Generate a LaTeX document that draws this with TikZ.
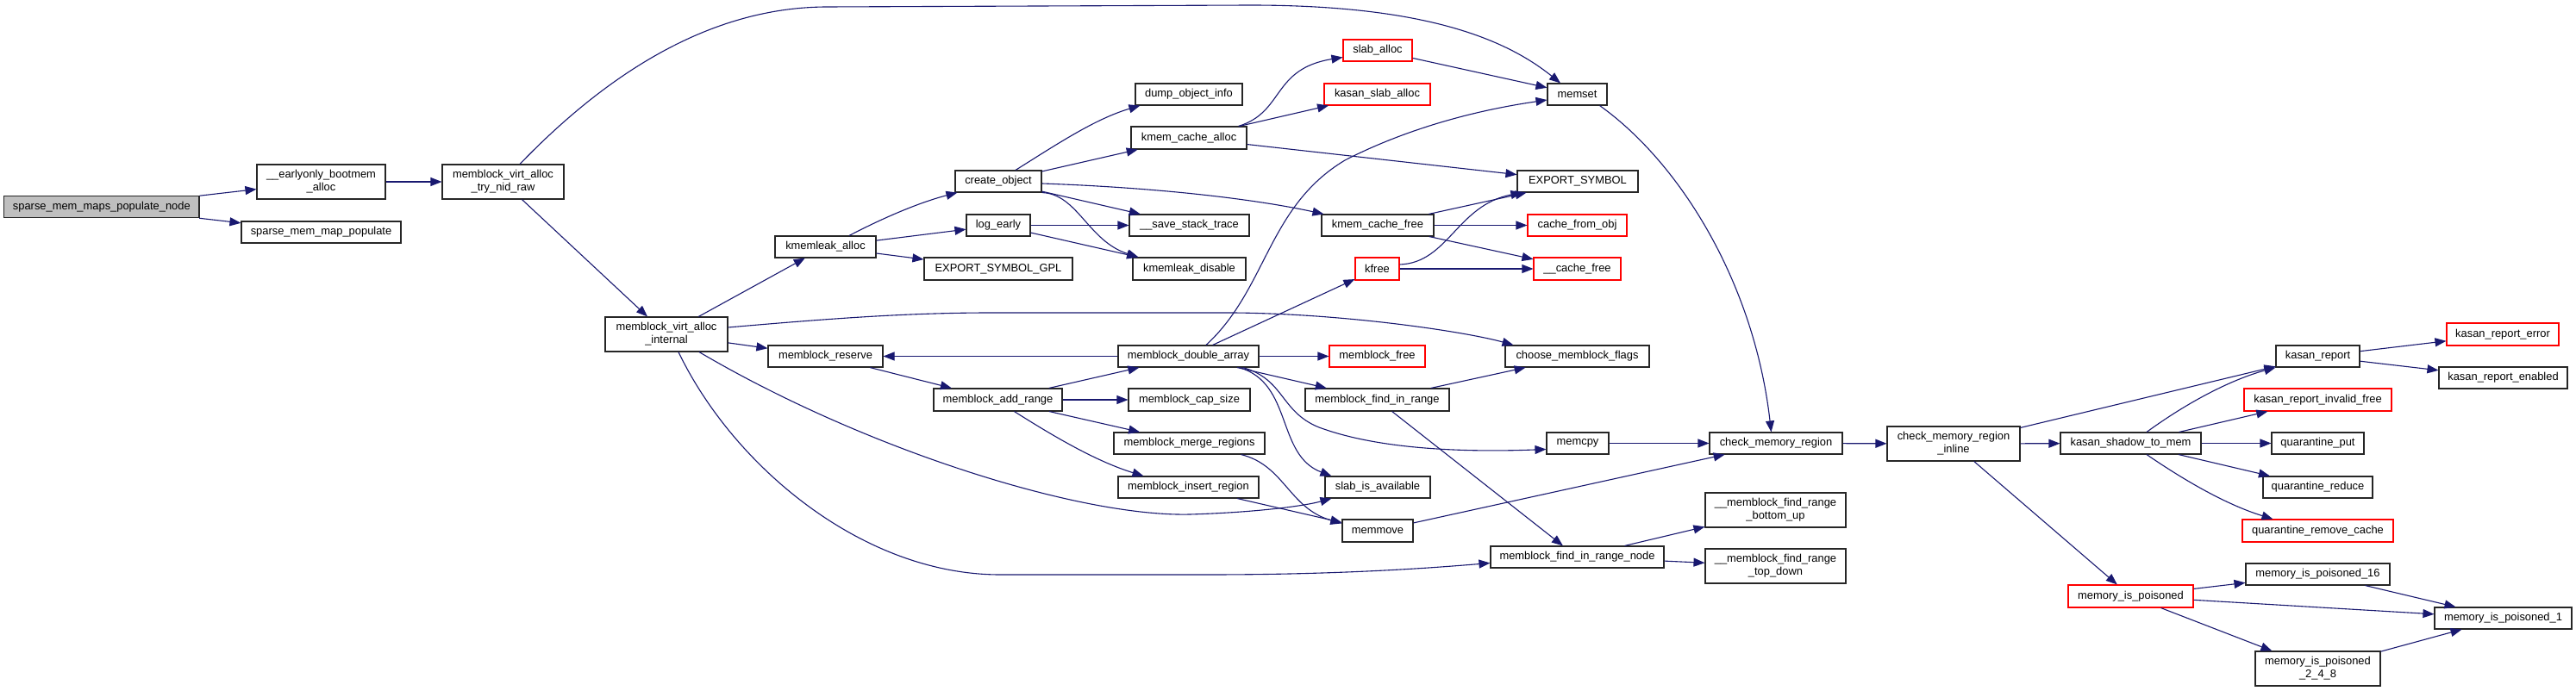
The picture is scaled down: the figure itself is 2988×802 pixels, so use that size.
\documentclass[tikz,border=0pt]{standalone}
\usepackage{fontspec}
\setmainfont{Liberation Sans}
\usetikzlibrary{arrows.meta,calc}
\definecolor{edgec}{HTML}{191970}
\definecolor{rootfill}{HTML}{BFBFBF}
\newcommand\gnode[7][box]{\node[#1, minimum width={#4pt-#3pt}, minimum height={#6pt-#5pt}] (#2) at ({(#3+#4)/2},{(#5+#6)/2}) {#7};}
\begin{document}
\begin{tikzpicture}[x=1pt,y=-1pt,
  box/.style={draw=black!85, line width=1.1pt, fill=white, inner sep=0pt, align=center, font=\fontsize{12.9}{15}\selectfont},
  redbox/.style={box, draw=red},
  rootbox/.style={box, fill=rootfill},
  e/.style={draw=edgec, line width=1.1pt, -{Triangle[length=13pt,width=10pt]}, fill=none}]
\fill[white] (0,0) rectangle (2988,802);
\useasboundingbox (0,0) rectangle (2988,802);
% nodes
\gnode[rootbox]{root}{4.7}{231}{227.7}{252.7}{sparse\_mem\_maps\_populate\_node}
\gnode{early}{298}{447}{191}{231}{\_\_earlyonly\_bootmem\\\_alloc}
\gnode{nidraw}{513}{654}{191}{231}{memblock\_virt\_alloc\\\_try\_nid\_raw}
\gnode{smmp}{280}{465}{257}{282}{sparse\_mem\_map\_populate}
\gnode{internal}{702}{844}{368}{408}{memblock\_virt\_alloc\\\_internal}
\gnode{kmalloc}{899}{1016}{274}{299}{kmemleak\_alloc}
\gnode{mreserve}{891}{1024}{401}{426}{memblock\_reserve}
\gnode{createobj}{1108}{1208}{198}{223}{create\_object}
\gnode{logearly}{1121}{1195}{249}{274}{log\_early}
\gnode{esgpl}{1072}{1244}{299}{325}{EXPORT\_SYMBOL\_GPL}
\gnode{addrange}{1083}{1232}{451}{477}{memblock\_add\_range}
\gnode{dumpobj}{1317}{1441}{97}{122}{dump\_object\_info}
\gnode{kcalloc}{1312}{1446}{147}{173}{kmem\_cache\_alloc}
\gnode{savest}{1310}{1449}{249}{274}{\_\_save\_stack\_trace}
\gnode{kmdisable}{1314}{1445}{299}{325}{kmemleak\_disable}
\gnode{dblarr}{1297}{1460}{401}{426}{memblock\_double\_array}
\gnode{capsize}{1309}{1450}{451}{477}{memblock\_cap\_size}
\gnode{mergereg}{1292}{1467}{502}{527}{memblock\_merge\_regions}
\gnode{insertreg}{1297}{1460}{553}{578}{memblock\_insert\_region}
\gnode[redbox]{slaballoc}{1558}{1638}{46}{71}{slab\_alloc}
\gnode[redbox]{kasanslab}{1536}{1659}{97}{122}{kasan\_slab\_alloc}
\gnode{kcfree}{1533}{1663}{249}{274}{kmem\_cache\_free}
\gnode[redbox]{kfree}{1572}{1623}{299}{325}{kfree}
\gnode[redbox]{mbfree}{1542}{1653}{401}{426}{memblock\_free}
\gnode{findrange}{1514}{1681}{451}{477}{memblock\_find\_in\_range}
\gnode{slabavail}{1537}{1659}{553}{578}{slab\_is\_available}
\gnode{memmove}{1557}{1639}{603}{629}{memmove}
\gnode{memset}{1795}{1864}{97}{122}{memset}
\gnode{expsym}{1760}{1900}{198}{223}{EXPORT\_SYMBOL}
\gnode[redbox]{cachefromobj}{1772}{1887}{249}{274}{cache\_from\_obj}
\gnode[redbox]{cachefree}{1779}{1880}{299}{325}{\_\_cache\_free}
\gnode{choose}{1746}{1913}{401}{426}{choose\_memblock\_flags}
\gnode{memcpy}{1794}{1866}{502}{527}{memcpy}
\gnode{findnode}{1729}{1930}{634}{659}{memblock\_find\_in\_range\_node}
\gnode{cmr}{1983}{2137}{502}{527}{check\_memory\_region}
\gnode{bottomup}{1978}{2141}{572}{612}{\_\_memblock\_find\_range\\\_bottom\_up}
\gnode{topdown}{1978}{2141}{637}{677}{\_\_memblock\_find\_range\\\_top\_down}
\gnode{cmrinline}{2189}{2343}{495}{535}{check\_memory\_region\\\_inline}
\gnode{kreport}{2640}{2737}{401}{426}{kasan\_report}
\gnode[redbox]{kreperr}{2838}{2968}{375}{401}{kasan\_report\_error}
\gnode{krepen}{2829}{2978}{426}{451}{kasan\_report\_enabled}
\gnode[redbox]{krepinv}{2603}{2774}{451}{477}{kasan\_report\_invalid\_free}
\gnode{kshadow}{2390}{2553}{502}{527}{kasan\_shadow\_to\_mem}
\gnode{qput}{2635}{2742}{502}{527}{quarantine\_put}
\gnode{qreduce}{2625}{2752}{553}{578}{quarantine\_reduce}
\gnode[redbox]{qremove}{2601}{2776}{603}{629}{quarantine\_remove\_cache}
\gnode[redbox]{mip}{2399}{2544}{679}{705}{memory\_is\_poisoned}
\gnode{mip16}{2605}{2772}{654}{679}{memory\_is\_poisoned\_16}
\gnode{mip1}{2824}{2983}{705}{730}{memory\_is\_poisoned\_1}
\gnode{mip248}{2616}{2761}{756}{796}{memory\_is\_poisoned\\\_2\_4\_8}
% straight edges
\foreach \a/\b in {root/early, root/smmp, early/nidraw, nidraw/internal,
  internal/kmalloc, internal/mreserve, kmalloc/logearly, kmalloc/esgpl,
  createobj/kcalloc, createobj/savest, logearly/savest, logearly/kmdisable,
  kcalloc/kasanslab, kcalloc/expsym, slaballoc/memset, kcfree/expsym,
  kcfree/cachefromobj, kcfree/cachefree, kfree/cachefree, dblarr/kfree,
  dblarr/mreserve, dblarr/mbfree, dblarr/findrange, mreserve/addrange,
  addrange/dblarr, addrange/capsize, addrange/mergereg, insertreg/memmove,
  findrange/choose, findrange/findnode, memcpy/cmr, memmove/cmr,
  findnode/bottomup, findnode/topdown, cmr/cmrinline, cmrinline/kreport,
  cmrinline/kshadow, cmrinline/mip, kreport/kreperr, kreport/krepen,
  kshadow/krepinv, kshadow/qput, kshadow/qreduce, mip/mip16, mip/mip1,
  mip/mip248, mip16/mip1, mip248/mip1}
  \draw[e] (\a) -- (\b);
% curved edges
\draw[e] ($(nidraw.north)+(19.5,0)$) .. controls (700,90) and (820,8) .. (960,8)
  -- (1450,6) .. controls (1640,6) and (1740,40) .. ($(memset.north)+(-19.5,0)$);
\draw[e] ($(internal.east)+(0,-8)$) .. controls (960,370) and (1050,363) .. (1150,363)
  -- (1430,363) .. controls (1560,364) and (1700,385) .. ($(choose.north)+(-74,0)$);
\draw[e] ($(internal.south)+(38,0)$) .. controls (1000,520) and (1250,600) .. (1380,597)
  .. controls (1450,595) and (1510,588) .. ($(slabavail.south west)+(8,0)$);
\draw[e] ($(internal.south)+(14,0)$) .. controls (850,540) and (1000,667) .. (1160,667)
  -- (1400,667) .. controls (1550,667) and (1650,660) .. ($(findnode.west)+(0,7)$);
\draw[e] ($(kmalloc.north)+(27.5,0)$) .. controls (1030,250) and (1070,234) .. ($(createobj.south west)+(3,0)$);
\draw[e] ($(createobj.north)+(20,0)$) .. controls (1225,168) and (1270,138) .. ($(dumpobj.south west)+(6,0)$);
\draw[e] ($(createobj.east)+(0,2.5)$) .. controls (1350,218) and (1460,232) .. ($(kcfree.north west)+(3,0)$);
\draw[e] (createobj.south east) .. controls (1250,225) and (1262,280) .. ($(kmdisable.north west)+(7,0)$);
\draw[e] ($(kcalloc.north east)+(-10,0)$) .. controls (1490,130) and (1475,80) .. ($(slaballoc.west)+(0,8)$);
\draw[e] ($(kfree.east)+(0,-5)$) .. controls (1680,305) and (1690,238) .. ($(expsym.south west)+(6,0)$);
\draw[e] ($(dblarr.north)+(20.5,0)$) .. controls (1470,335) and (1470,240) .. (1560,186)
  .. controls (1650,140) and (1740,124) .. ($(memset.west)+(0,6.5)$);
\draw[e] ($(dblarr.south east)+(-19,0)$) .. controls (1490,440) and (1485,478) .. (1530,496)
  .. controls (1600,522) and (1700,525) .. ($(memcpy.west)+(0,7)$);
\draw[e] ($(dblarr.south east)+(-23,0)$) .. controls (1500,445) and (1480,528) .. ($(slabavail.north west)+(8,0)$);
\draw[e] ($(addrange.south)+(19,0)$) .. controls (1220,505) and (1270,535) .. ($(insertreg.north west)+(30,0)$);
\draw[e] ($(mergereg.south east)+(-28,0)$) .. controls (1490,540) and (1495,590) .. ($(memmove.north west)+(0,5)$);
\draw[e] ($(memset.south east)+(-9,0)$) .. controls (1950,190) and (2035,330) .. ($(cmr.north)+(-5.5,0)$);
\draw[e] ($(kshadow.north)+(18.5,0)$) .. controls (2540,465) and (2590,440) .. (kreport.south west);
\draw[e] ($(kshadow.south)+(18.5,0)$) .. controls (2530,555) and (2580,585) .. ($(qremove.north west)+(36,0)$);
\end{tikzpicture}
\end{document}
